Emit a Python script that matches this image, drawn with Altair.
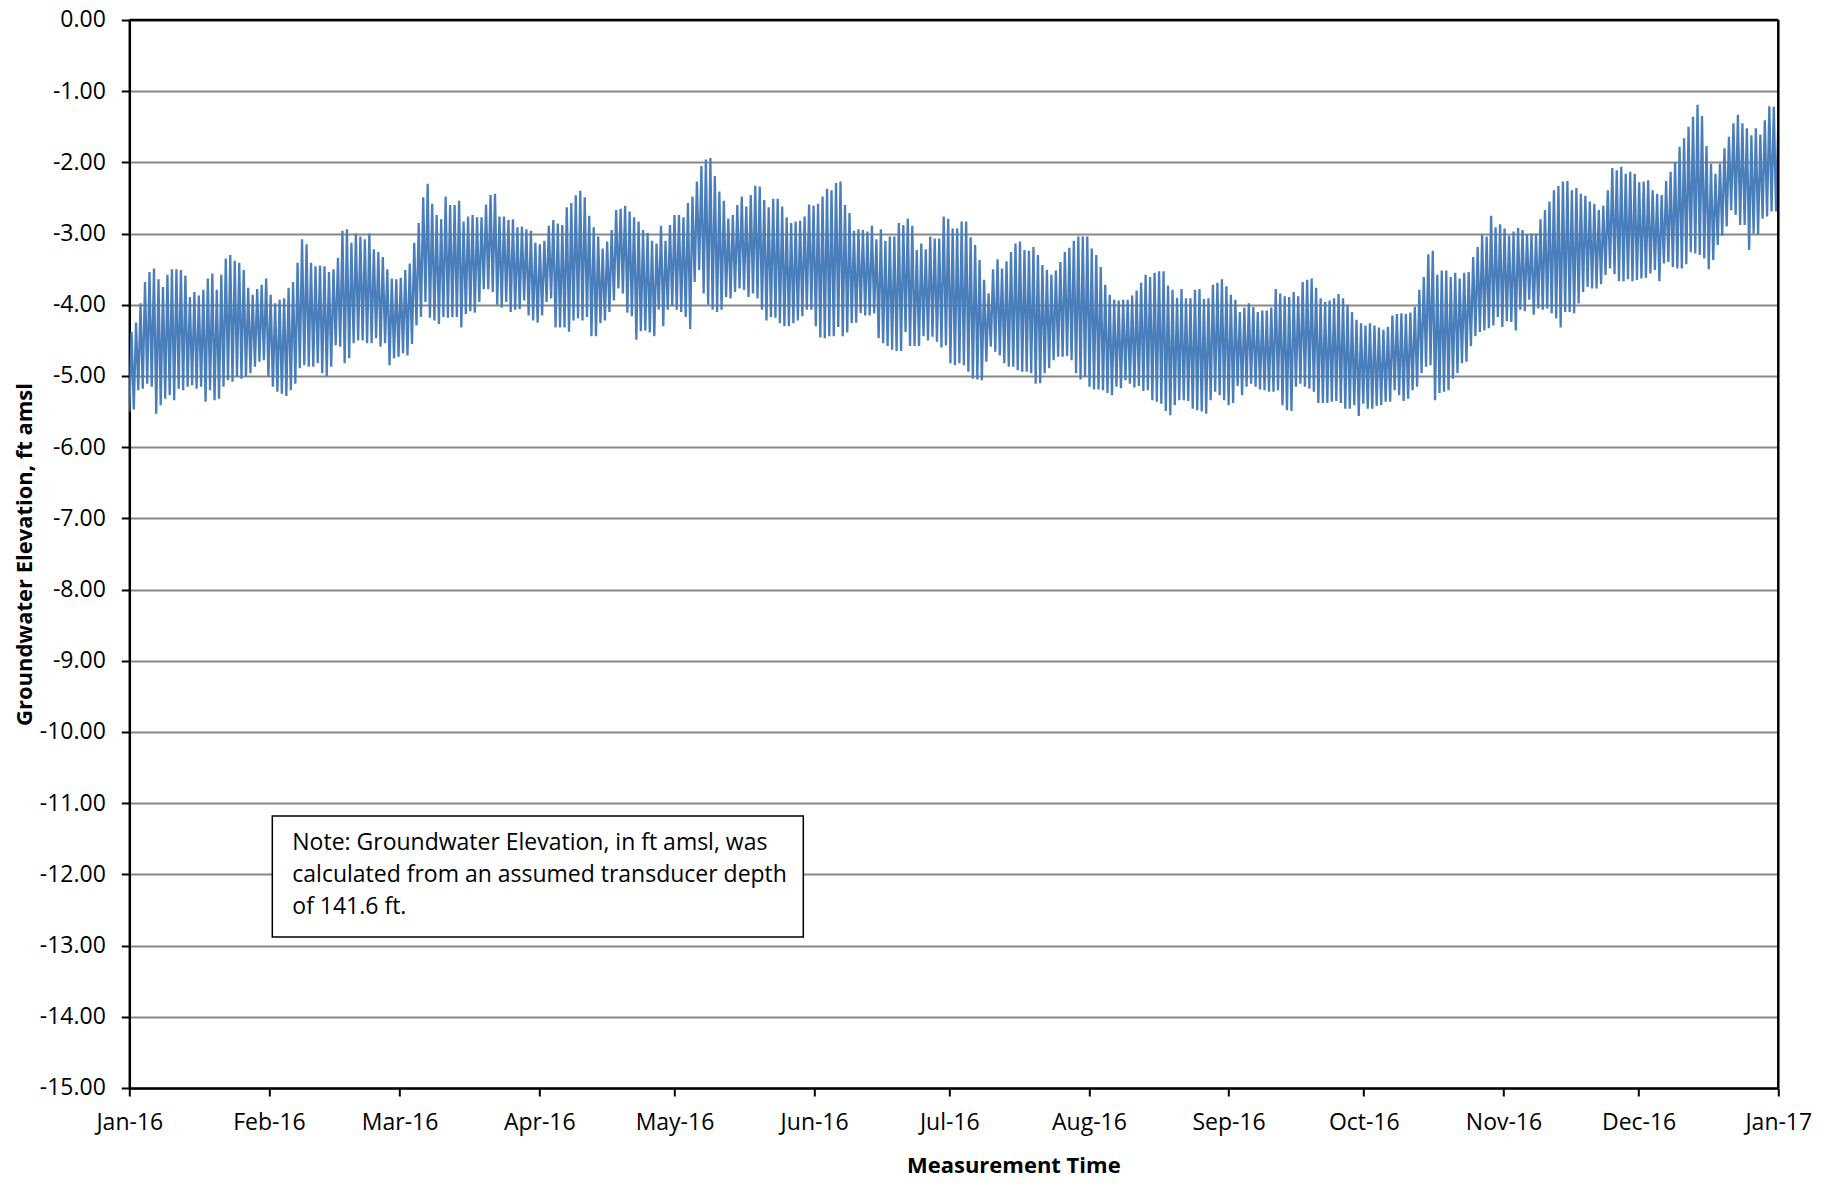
import altair as alt
import pandas as pd

# Daily high / low groundwater elevations (ft amsl), in time order
HIGH_1 = [-4.38, -4.25, -3.98, -3.68, -3.54, -3.49, -3.64, -3.75, -3.58, -3.50,
          -3.50, -3.51, -3.59, -3.89, -3.82, -3.87, -3.79, -3.63, -3.56, -3.79,
          -3.58, -3.35, -3.30, -3.38, -3.41, -3.51, -3.76, -3.86, -3.78, -3.72,
          -3.63, -3.86, -3.98, -3.93, -3.91, -3.76, -3.68, -3.41, -3.08, -3.15,
          -3.41, -3.46, -3.45, -3.46, -3.54, -3.50, -3.34, -2.96, -2.94, -3.13,
          -3.00, -3.04, -3.08, -3.00, -3.22, -3.26, -3.33, -3.50, -3.63, -3.64,
          -3.62]
HIGH_2 = [-3.51, -3.42, -3.13, -2.85, -2.49, -2.30, -2.58, -2.74, -2.80, -2.48,
          -2.60, -2.60, -2.54, -2.83, -2.76, -2.74, -2.77, -2.77, -2.59, -2.46,
          -2.44, -2.76, -2.76, -2.81, -2.80, -2.91, -2.90, -2.94, -2.96, -3.13,
          -3.15, -3.10, -2.89, -2.81, -2.86, -2.88, -2.63, -2.57, -2.46, -2.40,
          -2.49, -2.75, -2.91, -3.04, -3.21, -3.11, -2.95, -2.67, -2.65, -2.61,
          -2.69, -2.77, -2.83, -2.95, -2.99, -3.10, -3.14, -2.89, -3.10, -2.88,
          -2.74]
HIGH_3 = [-2.74, -2.77, -2.57, -2.48, -2.27, -2.05, -1.96, -1.94, -2.19, -2.41,
          -2.54, -2.79, -2.74, -2.60, -2.48, -2.62, -2.46, -2.33, -2.34, -2.53,
          -2.63, -2.51, -2.51, -2.62, -2.77, -2.85, -2.83, -2.82, -2.76, -2.59,
          -2.61, -2.58, -2.48, -2.37, -2.39, -2.29, -2.27, -2.60, -2.71, -2.96,
          -2.94, -2.95, -2.97, -2.89, -3.08, -2.94, -3.10, -3.04, -3.04, -2.85,
          -2.88, -2.79, -2.89, -3.23, -3.14, -3.22, -3.04, -3.07, -3.07, -2.76,
          -2.79, -2.93]
HIGH_4 = [-2.93, -2.83, -2.83, -3.05, -3.16, -3.37, -3.65, -3.84, -3.50, -3.36,
          -3.49, -3.39, -3.26, -3.14, -3.11, -3.23, -3.24, -3.19, -3.30, -3.44,
          -3.51, -3.58, -3.52, -3.40, -3.26, -3.20, -3.10, -3.04, -3.04, -3.04,
          -3.21, -3.30, -3.47, -3.72, -3.86, -3.93, -3.94, -3.93, -3.93, -3.87,
          -3.80, -3.69, -3.58, -3.61, -3.55, -3.53, -3.53, -3.73, -3.79, -3.90,
          -3.78, -3.91, -3.91, -3.79, -3.78, -3.92, -3.91, -3.72, -3.69, -3.64,
          -3.74]
HIGH_5 = [-3.86, -3.93, -4.10, -4.04, -3.98, -4.03, -4.10, -4.08, -4.08, -4.04,
          -3.78, -3.84, -3.88, -3.89, -3.82, -3.88, -3.68, -3.65, -3.63, -3.76,
          -3.91, -3.96, -3.94, -3.91, -3.85, -3.91, -4.00, -4.10, -4.21, -4.26,
          -4.29, -4.26, -4.29, -4.32, -4.35, -4.31, -4.15, -4.13, -4.12, -4.13,
          -4.11, -4.03, -3.79, -3.61, -3.29, -3.24, -3.58, -3.52, -3.52, -3.61,
          -3.55, -3.63, -3.55, -3.54, -3.33, -3.19, -3.02, -3.04, -2.75, -2.91,
          -2.87]
HIGH_6 = [-2.93, -3.03, -2.97, -2.92, -2.95, -3.01, -3.00, -3.00, -2.80, -2.67,
          -2.55, -2.39, -2.33, -2.27, -2.26, -2.39, -2.36, -2.44, -2.47, -2.55,
          -2.58, -2.67, -2.61, -2.39, -2.08, -2.11, -2.06, -2.16, -2.13, -2.16,
          -2.28, -2.27, -2.25, -2.39, -2.44, -2.46, -2.26, -2.13, -2.00, -1.78,
          -1.66, -1.50, -1.36, -1.19, -1.35, -1.77, -2.02, -2.16, -2.02, -1.80,
          -1.64, -1.45, -1.33, -1.45, -1.52, -1.62, -1.52, -1.61, -1.41, -1.21,
          -1.22, -1.42]

LOW_1 = [-5.50, -5.47, -5.20, -5.18, -5.11, -5.15, -5.53, -5.41, -5.32, -5.27,
         -5.34, -5.18, -5.20, -5.15, -5.13, -5.18, -5.15, -5.36, -5.20, -5.34,
         -5.32, -5.15, -5.06, -5.08, -5.01, -5.04, -5.01, -4.96, -4.87, -4.80,
         -4.78, -5.01, -5.15, -5.22, -5.25, -5.28, -5.20, -5.11, -4.89, -4.85,
         -4.87, -4.87, -4.82, -4.96, -5.00, -4.87, -4.57, -4.59, -4.82, -4.75,
         -4.54, -4.50, -4.50, -4.54, -4.54, -4.47, -4.59, -4.54, -4.85, -4.75,
         -4.73]
LOW_2 = [-4.68, -4.71, -4.55, -4.29, -4.17, -3.96, -4.18, -4.22, -4.27, -4.17,
         -4.18, -4.17, -4.17, -4.32, -4.13, -4.09, -4.11, -3.96, -3.78, -3.78,
         -3.82, -4.00, -4.04, -3.96, -4.10, -4.07, -4.06, -3.94, -4.15, -4.22,
         -4.25, -4.15, -3.96, -3.91, -4.32, -4.32, -4.32, -4.38, -4.22, -4.19,
         -4.22, -4.17, -4.44, -4.44, -4.26, -4.22, -4.10, -3.94, -3.77, -3.84,
         -4.11, -4.16, -4.49, -4.37, -4.36, -4.39, -4.44, -4.07, -4.30, -4.07,
         -4.02]
LOW_3 = [-4.07, -4.10, -4.17, -4.34, -3.68, -3.51, -3.84, -4.00, -4.07, -4.10,
         -4.07, -3.89, -3.91, -3.82, -3.77, -3.79, -3.89, -3.84, -3.91, -4.07,
         -4.22, -4.17, -4.18, -4.26, -4.30, -4.30, -4.26, -4.22, -4.16, -4.07,
         -4.07, -4.30, -4.46, -4.47, -4.44, -4.44, -4.31, -4.44, -4.39, -4.26,
         -4.25, -4.12, -4.15, -4.15, -4.12, -4.47, -4.54, -4.58, -4.63, -4.65,
         -4.65, -4.38, -4.58, -4.58, -4.58, -4.44, -4.50, -4.45, -4.52, -4.60,
         -4.57, -4.82]
LOW_4 = [-4.85, -4.82, -4.85, -4.94, -5.04, -5.05, -5.06, -4.80, -4.59, -4.66,
         -4.71, -4.82, -4.87, -4.87, -4.92, -4.94, -4.94, -4.96, -5.11, -5.10,
         -4.96, -4.89, -4.78, -4.73, -4.73, -4.72, -4.78, -4.96, -5.05, -5.01,
         -5.15, -5.19, -5.19, -5.20, -5.24, -5.27, -5.15, -5.17, -5.06, -5.11,
         -5.16, -5.14, -5.21, -5.20, -5.34, -5.36, -5.39, -5.49, -5.55, -5.41,
         -5.34, -5.34, -5.35, -5.46, -5.48, -5.50, -5.53, -5.34, -5.22, -5.27,
         -5.34]
LOW_5 = [-5.41, -5.38, -5.14, -5.27, -5.15, -5.11, -5.15, -5.19, -5.20, -5.22,
         -5.22, -5.20, -5.41, -5.48, -5.49, -5.15, -5.11, -5.15, -5.18, -5.22,
         -5.38, -5.38, -5.38, -5.36, -5.35, -5.38, -5.46, -5.46, -5.41, -5.56,
         -5.39, -5.46, -5.46, -5.42, -5.41, -5.36, -5.36, -5.20, -5.27, -5.35,
         -5.32, -5.20, -5.15, -4.96, -4.87, -4.85, -5.34, -5.24, -5.22, -5.20,
         -5.04, -4.96, -4.82, -4.80, -4.58, -4.44, -4.38, -4.36, -4.33, -4.29,
         -4.17]
LOW_6 = [-4.31, -4.23, -4.24, -4.36, -4.07, -4.09, -3.93, -4.14, -4.05, -4.07,
         -4.05, -4.12, -4.19, -4.32, -4.10, -4.10, -4.12, -3.98, -3.82, -3.75,
         -3.77, -3.77, -3.71, -3.58, -3.49, -3.57, -3.67, -3.67, -3.64, -3.67,
         -3.65, -3.63, -3.62, -3.56, -3.51, -3.67, -3.42, -3.40, -3.47, -3.49,
         -3.49, -3.43, -3.26, -3.28, -3.30, -3.35, -3.50, -3.37, -3.16, -3.03,
         -2.90, -2.67, -2.74, -2.88, -2.88, -3.23, -3.00, -3.01, -2.79, -2.76,
         -2.69, -2.69]

NOTE_LINES = [
    "Note: Groundwater Elevation, in ft amsl, was",
    "calculated from an assumed transducer depth",
    "of 141.6 ft.",
]
Y_TICKS = list(range(-15, 1))
MONTH_TICKS = [(2016, m) for m in range(1, 13)] + [(2017, 1)]

highs = HIGH_1 + HIGH_2 + HIGH_3 + HIGH_4 + HIGH_5 + HIGH_6
lows = LOW_1 + LOW_2 + LOW_3 + LOW_4 + LOW_5 + LOW_6
values = []
for lo, hi in zip(lows, highs):
    values += [lo, hi]
times = pd.date_range("2016-01-01", "2017-01-01", periods=len(values))
df = pd.DataFrame({"time": times.strftime("%Y-%m-%dT%H:%M:%S"), "elev": values})

W, H = 1649, 1068
one = pd.DataFrame({"k": [0]})

x_axis = alt.Axis(
    values=[alt.DateTime(year=y, month=m, date=1) for y, m in MONTH_TICKS],
    format="%b-%y", formatType="time", grid=False, labelFlush=False,
    title="Measurement Time", labelPadding=16,
    titleX=884, titleY=85, titleBaseline="alphabetic", titleAlign="center",
)
y_axis = alt.Axis(
    values=Y_TICKS, labelExpr="datum.value + '.00'", grid=True,
    title="Groundwater Elevation, ft amsl", labelPadding=16,
    titleX=-105, titleY=H / 2, titleBaseline="middle", titleAlign="center",
)

line = alt.Chart(df).mark_line(color="#4A7EBB", strokeWidth=2.3, clip=True).encode(
    x=alt.X("time:T", axis=x_axis,
            scale=alt.Scale(domain=[alt.DateTime(year=2016, month=1, date=1),
                                    alt.DateTime(year=2017, month=1, date=1)], nice=False)),
    y=alt.Y("elev:Q", axis=y_axis, scale=alt.Scale(domain=[-15, 0], nice=False)),
)

top_rule = alt.Chart(one).mark_rule(color="black", strokeWidth=2.5).encode(
    x=alt.value(0), x2=alt.value(W), y=alt.value(0))
right_rule = alt.Chart(one).mark_rule(color="black", strokeWidth=2.5).encode(
    x=alt.value(W), y=alt.value(0), y2=alt.value(H))

box = alt.Chart(one).mark_rect(fill="white", stroke="black", strokeWidth=1.5).encode(
    x=alt.value(143), x2=alt.value(674), y=alt.value(796), y2=alt.value(917))

note_layers = []
for i, txt in enumerate(NOTE_LINES):
    note_layers.append(
        alt.Chart(one).mark_text(
            align="left", baseline="middle", font="Open Sans", fontSize=23,
            color="black").encode(
            x=alt.value(163), y=alt.value(823 + 32 * i), text=alt.value(txt))
    )

chart = alt.layer(line, top_rule, right_rule, box, *note_layers).properties(
    width=W, height=H,
    autosize=alt.AutoSizeParams(type="none"),
    padding={"left": 121.3, "top": 12, "right": 40, "bottom": 92.6},
    background="white",
).configure_view(stroke=None).configure_axis(
    labelFont="Open Sans", labelFontSize=23, labelColor="black",
    titleFont="Open Sans", titleFontSize=22, titleFontWeight="bold", titleColor="black",
    domainColor="black", domainWidth=2.5, tickColor="black", tickWidth=2, tickSize=8,
    gridColor="#878787", gridWidth=1.8,
)

chart.save("out.html", embed_options={"renderer": "svg", "actions": False})
